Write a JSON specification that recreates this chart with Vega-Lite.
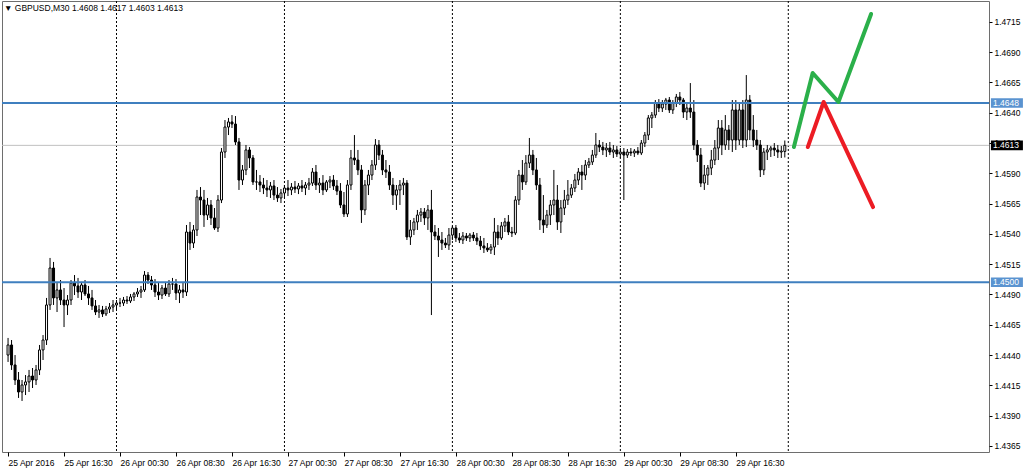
{
"$schema":"https://vega.github.io/schema/vega-lite/v6.json",
"width":987,"height":451,
"autosize":{"type":"none"},
"padding":{"left":2,"top":1,"right":35,"bottom":19},
"background":"white",
"config":{"view":{"stroke":"#6e6e6e","strokeWidth":1},"font":"Liberation Sans","axis":{"labelOverlap":false}},
"title":{"text":"▼ GBPUSD,M30  1.4608 1.4617 1.4603 1.4613","anchor":"start","frame":"group","fontSize":8.5,"fontWeight":"normal","font":"Liberation Sans","color":"black","offset":-12,"dx":2},
"resolve":{"axis":{"y":"independent"}},
"data":{"format":{"parse":{"t":"utc:'%Y-%m-%d %H:%M'"}},"values":[
{"t":"2016-04-25 08:30","o":1.44400,"h":1.44541,"l":1.44343,"c":1.44483},
{"t":"2016-04-25 09:00","o":1.44483,"h":1.44524,"l":1.44277,"c":1.44318},
{"t":"2016-04-25 09:30","o":1.44318,"h":1.44400,"l":1.44153,"c":1.44194},
{"t":"2016-04-25 10:00","o":1.44194,"h":1.44260,"l":1.44046,"c":1.44095},
{"t":"2016-04-25 10:30","o":1.44095,"h":1.44194,"l":1.44021,"c":1.44153},
{"t":"2016-04-25 11:00","o":1.44153,"h":1.44235,"l":1.44070,"c":1.44178},
{"t":"2016-04-25 11:30","o":1.44178,"h":1.44277,"l":1.44095,"c":1.44227},
{"t":"2016-04-25 12:00","o":1.44227,"h":1.44293,"l":1.44128,"c":1.44194},
{"t":"2016-04-25 12:30","o":1.44194,"h":1.44318,"l":1.44153,"c":1.44277},
{"t":"2016-04-25 13:00","o":1.44277,"h":1.44483,"l":1.44235,"c":1.44442},
{"t":"2016-04-25 13:30","o":1.44442,"h":1.44565,"l":1.44359,"c":1.44524},
{"t":"2016-04-25 14:00","o":1.44524,"h":1.44871,"l":1.44483,"c":1.44813},
{"t":"2016-04-25 14:30","o":1.44813,"h":1.45201,"l":1.44772,"c":1.45118},
{"t":"2016-04-25 15:00","o":1.45118,"h":1.45168,"l":1.44813,"c":1.44871},
{"t":"2016-04-25 15:30","o":1.44871,"h":1.44994,"l":1.44755,"c":1.44937},
{"t":"2016-04-25 16:00","o":1.44937,"h":1.45019,"l":1.44813,"c":1.44854},
{"t":"2016-04-25 16:30","o":1.44854,"h":1.44953,"l":1.44631,"c":1.44813},
{"t":"2016-04-25 17:00","o":1.44813,"h":1.44895,"l":1.44730,"c":1.44854},
{"t":"2016-04-25 17:30","o":1.44854,"h":1.45019,"l":1.44813,"c":1.44994},
{"t":"2016-04-25 18:00","o":1.44994,"h":1.45060,"l":1.44895,"c":1.44970},
{"t":"2016-04-25 18:30","o":1.44970,"h":1.45036,"l":1.44871,"c":1.44920},
{"t":"2016-04-25 19:00","o":1.44920,"h":1.45003,"l":1.44854,"c":1.44978},
{"t":"2016-04-25 19:30","o":1.44978,"h":1.45019,"l":1.44887,"c":1.44904},
{"t":"2016-04-25 20:00","o":1.44904,"h":1.44970,"l":1.44813,"c":1.44871},
{"t":"2016-04-25 20:30","o":1.44871,"h":1.44937,"l":1.44772,"c":1.44805},
{"t":"2016-04-25 21:00","o":1.44805,"h":1.44854,"l":1.44730,"c":1.44755},
{"t":"2016-04-25 21:30","o":1.44755,"h":1.44813,"l":1.44706,"c":1.44772},
{"t":"2016-04-25 22:00","o":1.44772,"h":1.44805,"l":1.44714,"c":1.44739},
{"t":"2016-04-25 22:30","o":1.44739,"h":1.44805,"l":1.44722,"c":1.44780},
{"t":"2016-04-25 23:00","o":1.44780,"h":1.44829,"l":1.44747,"c":1.44796},
{"t":"2016-04-25 23:30","o":1.44796,"h":1.44854,"l":1.44755,"c":1.44813},
{"t":"2016-04-26 00:00","o":1.44813,"h":1.44854,"l":1.44772,"c":1.44829},
{"t":"2016-04-26 00:30","o":1.44829,"h":1.44871,"l":1.44796,"c":1.44829},
{"t":"2016-04-26 01:00","o":1.44829,"h":1.44879,"l":1.44805,"c":1.44854},
{"t":"2016-04-26 01:30","o":1.44854,"h":1.44887,"l":1.44821,"c":1.44846},
{"t":"2016-04-26 02:00","o":1.44846,"h":1.44904,"l":1.44829,"c":1.44879},
{"t":"2016-04-26 02:30","o":1.44879,"h":1.44920,"l":1.44846,"c":1.44904},
{"t":"2016-04-26 03:00","o":1.44904,"h":1.44953,"l":1.44879,"c":1.44920},
{"t":"2016-04-26 03:30","o":1.44920,"h":1.44970,"l":1.44871,"c":1.44937},
{"t":"2016-04-26 04:00","o":1.44937,"h":1.45093,"l":1.44920,"c":1.45060},
{"t":"2016-04-26 04:30","o":1.45060,"h":1.45085,"l":1.44986,"c":1.45019},
{"t":"2016-04-26 05:00","o":1.45019,"h":1.45052,"l":1.44937,"c":1.44978},
{"t":"2016-04-26 05:30","o":1.44978,"h":1.45027,"l":1.44879,"c":1.44920},
{"t":"2016-04-26 06:00","o":1.44920,"h":1.44994,"l":1.44854,"c":1.44895},
{"t":"2016-04-26 06:30","o":1.44895,"h":1.44978,"l":1.44862,"c":1.44953},
{"t":"2016-04-26 07:00","o":1.44953,"h":1.45003,"l":1.44887,"c":1.44904},
{"t":"2016-04-26 07:30","o":1.44904,"h":1.45019,"l":1.44879,"c":1.44986},
{"t":"2016-04-26 08:00","o":1.44986,"h":1.45036,"l":1.44937,"c":1.44986},
{"t":"2016-04-26 08:30","o":1.44986,"h":1.45027,"l":1.44854,"c":1.44912},
{"t":"2016-04-26 09:00","o":1.44912,"h":1.44978,"l":1.44829,"c":1.44937},
{"t":"2016-04-26 09:30","o":1.44937,"h":1.45003,"l":1.44871,"c":1.44920},
{"t":"2016-04-26 10:00","o":1.44920,"h":1.45473,"l":1.44887,"c":1.45415},
{"t":"2016-04-26 10:30","o":1.45415,"h":1.45498,"l":1.45267,"c":1.45324},
{"t":"2016-04-26 11:00","o":1.45324,"h":1.45473,"l":1.45283,"c":1.45432},
{"t":"2016-04-26 11:30","o":1.45432,"h":1.45762,"l":1.45382,"c":1.45704},
{"t":"2016-04-26 12:00","o":1.45704,"h":1.45786,"l":1.45555,"c":1.45679},
{"t":"2016-04-26 12:30","o":1.45679,"h":1.45762,"l":1.45457,"c":1.45555},
{"t":"2016-04-26 13:00","o":1.45555,"h":1.45696,"l":1.45514,"c":1.45638},
{"t":"2016-04-26 13:30","o":1.45638,"h":1.45679,"l":1.45473,"c":1.45531},
{"t":"2016-04-26 14:00","o":1.45531,"h":1.45613,"l":1.45432,"c":1.45448},
{"t":"2016-04-26 14:30","o":1.45448,"h":1.45720,"l":1.45415,"c":1.45679},
{"t":"2016-04-26 15:00","o":1.45679,"h":1.46108,"l":1.45654,"c":1.46075},
{"t":"2016-04-26 15:30","o":1.46075,"h":1.46339,"l":1.46026,"c":1.46281},
{"t":"2016-04-26 16:00","o":1.46281,"h":1.46356,"l":1.46215,"c":1.46323},
{"t":"2016-04-26 16:30","o":1.46323,"h":1.46380,"l":1.46273,"c":1.46306},
{"t":"2016-04-26 17:00","o":1.46306,"h":1.46372,"l":1.46133,"c":1.46158},
{"t":"2016-04-26 17:30","o":1.46158,"h":1.46191,"l":1.45762,"c":1.45844},
{"t":"2016-04-26 18:00","o":1.45844,"h":1.45968,"l":1.45803,"c":1.45927},
{"t":"2016-04-26 18:30","o":1.45927,"h":1.46133,"l":1.45885,"c":1.46092},
{"t":"2016-04-26 19:00","o":1.46092,"h":1.46116,"l":1.45943,"c":1.46026},
{"t":"2016-04-26 19:30","o":1.46026,"h":1.46050,"l":1.45803,"c":1.45828},
{"t":"2016-04-26 20:00","o":1.45828,"h":1.45927,"l":1.45762,"c":1.45828},
{"t":"2016-04-26 20:30","o":1.45828,"h":1.45885,"l":1.45745,"c":1.45803},
{"t":"2016-04-26 21:00","o":1.45803,"h":1.45861,"l":1.45728,"c":1.45778},
{"t":"2016-04-26 21:30","o":1.45778,"h":1.45844,"l":1.45704,"c":1.45762},
{"t":"2016-04-26 22:00","o":1.45762,"h":1.45828,"l":1.45696,"c":1.45795},
{"t":"2016-04-26 22:30","o":1.45795,"h":1.45844,"l":1.45679,"c":1.45720},
{"t":"2016-04-26 23:00","o":1.45720,"h":1.45786,"l":1.45663,"c":1.45696},
{"t":"2016-04-26 23:30","o":1.45696,"h":1.45770,"l":1.45654,"c":1.45737},
{"t":"2016-04-27 00:00","o":1.45737,"h":1.45803,"l":1.45696,"c":1.45778},
{"t":"2016-04-27 00:30","o":1.45778,"h":1.45844,"l":1.45712,"c":1.45762},
{"t":"2016-04-27 01:00","o":1.45762,"h":1.45819,"l":1.45720,"c":1.45786},
{"t":"2016-04-27 01:30","o":1.45786,"h":1.45836,"l":1.45737,"c":1.45770},
{"t":"2016-04-27 02:00","o":1.45770,"h":1.45819,"l":1.45728,"c":1.45795},
{"t":"2016-04-27 02:30","o":1.45795,"h":1.45844,"l":1.45745,"c":1.45778},
{"t":"2016-04-27 03:00","o":1.45778,"h":1.45828,"l":1.45720,"c":1.45803},
{"t":"2016-04-27 03:30","o":1.45803,"h":1.45861,"l":1.45762,"c":1.45819},
{"t":"2016-04-27 04:00","o":1.45819,"h":1.45943,"l":1.45795,"c":1.45910},
{"t":"2016-04-27 04:30","o":1.45910,"h":1.45968,"l":1.45762,"c":1.45803},
{"t":"2016-04-27 05:00","o":1.45803,"h":1.45861,"l":1.45737,"c":1.45819},
{"t":"2016-04-27 05:30","o":1.45819,"h":1.45885,"l":1.45720,"c":1.45762},
{"t":"2016-04-27 06:00","o":1.45762,"h":1.45844,"l":1.45745,"c":1.45828},
{"t":"2016-04-27 06:30","o":1.45828,"h":1.45877,"l":1.45778,"c":1.45844},
{"t":"2016-04-27 07:00","o":1.45844,"h":1.45885,"l":1.45762,"c":1.45795},
{"t":"2016-04-27 07:30","o":1.45795,"h":1.45844,"l":1.45720,"c":1.45753},
{"t":"2016-04-27 08:00","o":1.45753,"h":1.45819,"l":1.45613,"c":1.45638},
{"t":"2016-04-27 08:30","o":1.45638,"h":1.45745,"l":1.45539,"c":1.45564},
{"t":"2016-04-27 09:00","o":1.45564,"h":1.45844,"l":1.45539,"c":1.45803},
{"t":"2016-04-27 09:30","o":1.45803,"h":1.46092,"l":1.45762,"c":1.46026},
{"t":"2016-04-27 10:00","o":1.46026,"h":1.46215,"l":1.45968,"c":1.46009},
{"t":"2016-04-27 10:30","o":1.46009,"h":1.46092,"l":1.45885,"c":1.45927},
{"t":"2016-04-27 11:00","o":1.45927,"h":1.45968,"l":1.45490,"c":1.45597},
{"t":"2016-04-27 11:30","o":1.45597,"h":1.45844,"l":1.45555,"c":1.45803},
{"t":"2016-04-27 12:00","o":1.45803,"h":1.45927,"l":1.45720,"c":1.45885},
{"t":"2016-04-27 12:30","o":1.45885,"h":1.46009,"l":1.45844,"c":1.45968},
{"t":"2016-04-27 13:00","o":1.45968,"h":1.46182,"l":1.45927,"c":1.46133},
{"t":"2016-04-27 13:30","o":1.46133,"h":1.46174,"l":1.46009,"c":1.46050},
{"t":"2016-04-27 14:00","o":1.46050,"h":1.46092,"l":1.45885,"c":1.45927},
{"t":"2016-04-27 14:30","o":1.45927,"h":1.46009,"l":1.45861,"c":1.45910},
{"t":"2016-04-27 15:00","o":1.45910,"h":1.45968,"l":1.45762,"c":1.45803},
{"t":"2016-04-27 15:30","o":1.45803,"h":1.45861,"l":1.45638,"c":1.45720},
{"t":"2016-04-27 16:00","o":1.45720,"h":1.45803,"l":1.45597,"c":1.45762},
{"t":"2016-04-27 16:30","o":1.45762,"h":1.45844,"l":1.45638,"c":1.45803},
{"t":"2016-04-27 17:00","o":1.45803,"h":1.45861,"l":1.45720,"c":1.45819},
{"t":"2016-04-27 17:30","o":1.45819,"h":1.45844,"l":1.45349,"c":1.45374},
{"t":"2016-04-27 18:00","o":1.45374,"h":1.45514,"l":1.45308,"c":1.45432},
{"t":"2016-04-27 18:30","o":1.45432,"h":1.45531,"l":1.45390,"c":1.45498},
{"t":"2016-04-27 19:00","o":1.45498,"h":1.45597,"l":1.45432,"c":1.45555},
{"t":"2016-04-27 19:30","o":1.45555,"h":1.45613,"l":1.45498,"c":1.45580},
{"t":"2016-04-27 20:00","o":1.45580,"h":1.45613,"l":1.45473,"c":1.45531},
{"t":"2016-04-27 20:30","o":1.45531,"h":1.45638,"l":1.45432,"c":1.45597},
{"t":"2016-04-27 21:00","o":1.45597,"h":1.45762,"l":1.44730,"c":1.45415},
{"t":"2016-04-27 21:30","o":1.45415,"h":1.45473,"l":1.45349,"c":1.45382},
{"t":"2016-04-27 22:00","o":1.45382,"h":1.45448,"l":1.45209,"c":1.45349},
{"t":"2016-04-27 22:30","o":1.45349,"h":1.45415,"l":1.45267,"c":1.45324},
{"t":"2016-04-27 23:00","o":1.45324,"h":1.45366,"l":1.45283,"c":1.45308},
{"t":"2016-04-27 23:30","o":1.45308,"h":1.45448,"l":1.45267,"c":1.45390},
{"t":"2016-04-28 00:00","o":1.45390,"h":1.45465,"l":1.45349,"c":1.45448},
{"t":"2016-04-28 00:30","o":1.45448,"h":1.45473,"l":1.45333,"c":1.45366},
{"t":"2016-04-28 01:00","o":1.45366,"h":1.45407,"l":1.45324,"c":1.45349},
{"t":"2016-04-28 01:30","o":1.45349,"h":1.45415,"l":1.45316,"c":1.45382},
{"t":"2016-04-28 02:00","o":1.45382,"h":1.45407,"l":1.45341,"c":1.45366},
{"t":"2016-04-28 02:30","o":1.45366,"h":1.45407,"l":1.45333,"c":1.45390},
{"t":"2016-04-28 03:00","o":1.45390,"h":1.45415,"l":1.45341,"c":1.45366},
{"t":"2016-04-28 03:30","o":1.45366,"h":1.45407,"l":1.45308,"c":1.45341},
{"t":"2016-04-28 04:00","o":1.45341,"h":1.45382,"l":1.45267,"c":1.45300},
{"t":"2016-04-28 04:30","o":1.45300,"h":1.45366,"l":1.45242,"c":1.45283},
{"t":"2016-04-28 05:00","o":1.45283,"h":1.45324,"l":1.45250,"c":1.45267},
{"t":"2016-04-28 05:30","o":1.45267,"h":1.45316,"l":1.45234,"c":1.45291},
{"t":"2016-04-28 06:00","o":1.45291,"h":1.45531,"l":1.45225,"c":1.45415},
{"t":"2016-04-28 06:30","o":1.45415,"h":1.45473,"l":1.45308,"c":1.45366},
{"t":"2016-04-28 07:00","o":1.45366,"h":1.45498,"l":1.45349,"c":1.45465},
{"t":"2016-04-28 07:30","o":1.45465,"h":1.45531,"l":1.45415,"c":1.45498},
{"t":"2016-04-28 08:00","o":1.45498,"h":1.45555,"l":1.45390,"c":1.45415},
{"t":"2016-04-28 08:30","o":1.45415,"h":1.45457,"l":1.45374,"c":1.45407},
{"t":"2016-04-28 09:00","o":1.45407,"h":1.45712,"l":1.45390,"c":1.45679},
{"t":"2016-04-28 09:30","o":1.45679,"h":1.45927,"l":1.45638,"c":1.45885},
{"t":"2016-04-28 10:00","o":1.45885,"h":1.46009,"l":1.45762,"c":1.45828},
{"t":"2016-04-28 10:30","o":1.45828,"h":1.46050,"l":1.45803,"c":1.45984},
{"t":"2016-04-28 11:00","o":1.45984,"h":1.46191,"l":1.45943,"c":1.46050},
{"t":"2016-04-28 11:30","o":1.46050,"h":1.46092,"l":1.45885,"c":1.45927},
{"t":"2016-04-28 12:00","o":1.45927,"h":1.46026,"l":1.45762,"c":1.45803},
{"t":"2016-04-28 12:30","o":1.45803,"h":1.45861,"l":1.45432,"c":1.45514},
{"t":"2016-04-28 13:00","o":1.45514,"h":1.45720,"l":1.45407,"c":1.45473},
{"t":"2016-04-28 13:30","o":1.45473,"h":1.45597,"l":1.45448,"c":1.45555},
{"t":"2016-04-28 14:00","o":1.45555,"h":1.45679,"l":1.45473,"c":1.45638},
{"t":"2016-04-28 14:30","o":1.45638,"h":1.45927,"l":1.45555,"c":1.45679},
{"t":"2016-04-28 15:00","o":1.45679,"h":1.45803,"l":1.45432,"c":1.45498},
{"t":"2016-04-28 15:30","o":1.45498,"h":1.45679,"l":1.45407,"c":1.45613},
{"t":"2016-04-28 16:00","o":1.45613,"h":1.45762,"l":1.45555,"c":1.45679},
{"t":"2016-04-28 16:30","o":1.45679,"h":1.45844,"l":1.45638,"c":1.45720},
{"t":"2016-04-28 17:00","o":1.45720,"h":1.45811,"l":1.45696,"c":1.45778},
{"t":"2016-04-28 17:30","o":1.45778,"h":1.45894,"l":1.45745,"c":1.45844},
{"t":"2016-04-28 18:00","o":1.45844,"h":1.45943,"l":1.45803,"c":1.45910},
{"t":"2016-04-28 18:30","o":1.45910,"h":1.45968,"l":1.45762,"c":1.45885},
{"t":"2016-04-28 19:00","o":1.45885,"h":1.46009,"l":1.45844,"c":1.45968},
{"t":"2016-04-28 19:30","o":1.45968,"h":1.46026,"l":1.45943,"c":1.45993},
{"t":"2016-04-28 20:00","o":1.45993,"h":1.46092,"l":1.45968,"c":1.46050},
{"t":"2016-04-28 20:30","o":1.46050,"h":1.46232,"l":1.46026,"c":1.46133},
{"t":"2016-04-28 21:00","o":1.46133,"h":1.46174,"l":1.46075,"c":1.46116},
{"t":"2016-04-28 21:30","o":1.46116,"h":1.46158,"l":1.46050,"c":1.46092},
{"t":"2016-04-28 22:00","o":1.46092,"h":1.46149,"l":1.46034,"c":1.46108},
{"t":"2016-04-28 22:30","o":1.46108,"h":1.46158,"l":1.46050,"c":1.46075},
{"t":"2016-04-28 23:00","o":1.46075,"h":1.46133,"l":1.46026,"c":1.46092},
{"t":"2016-04-28 23:30","o":1.46092,"h":1.46125,"l":1.46034,"c":1.46059},
{"t":"2016-04-29 00:00","o":1.46059,"h":1.46108,"l":1.46026,"c":1.46075},
{"t":"2016-04-29 00:30","o":1.46075,"h":1.46108,"l":1.45679,"c":1.46050},
{"t":"2016-04-29 01:00","o":1.46050,"h":1.46100,"l":1.46026,"c":1.46075},
{"t":"2016-04-29 01:30","o":1.46075,"h":1.46108,"l":1.46042,"c":1.46067},
{"t":"2016-04-29 02:00","o":1.46067,"h":1.46100,"l":1.46034,"c":1.46083},
{"t":"2016-04-29 02:30","o":1.46083,"h":1.46116,"l":1.46050,"c":1.46067},
{"t":"2016-04-29 03:00","o":1.46067,"h":1.46174,"l":1.46050,"c":1.46149},
{"t":"2016-04-29 03:30","o":1.46149,"h":1.46240,"l":1.46116,"c":1.46215},
{"t":"2016-04-29 04:00","o":1.46215,"h":1.46380,"l":1.46174,"c":1.46356},
{"t":"2016-04-29 04:30","o":1.46356,"h":1.46405,"l":1.46273,"c":1.46380},
{"t":"2016-04-29 05:00","o":1.46380,"h":1.46504,"l":1.46356,"c":1.46479},
{"t":"2016-04-29 05:30","o":1.46479,"h":1.46512,"l":1.46405,"c":1.46438},
{"t":"2016-04-29 06:00","o":1.46438,"h":1.46504,"l":1.46405,"c":1.46471},
{"t":"2016-04-29 06:30","o":1.46471,"h":1.46521,"l":1.46422,"c":1.46504},
{"t":"2016-04-29 07:00","o":1.46504,"h":1.46529,"l":1.46397,"c":1.46422},
{"t":"2016-04-29 07:30","o":1.46422,"h":1.46504,"l":1.46389,"c":1.46479},
{"t":"2016-04-29 08:00","o":1.46479,"h":1.46554,"l":1.46446,"c":1.46529},
{"t":"2016-04-29 08:30","o":1.46529,"h":1.46570,"l":1.46463,"c":1.46504},
{"t":"2016-04-29 09:00","o":1.46504,"h":1.46521,"l":1.46356,"c":1.46405},
{"t":"2016-04-29 09:30","o":1.46405,"h":1.46479,"l":1.46339,"c":1.46438},
{"t":"2016-04-29 10:00","o":1.46438,"h":1.46644,"l":1.46356,"c":1.46405},
{"t":"2016-04-29 10:30","o":1.46405,"h":1.46504,"l":1.46092,"c":1.46133},
{"t":"2016-04-29 11:00","o":1.46133,"h":1.46174,"l":1.45993,"c":1.46050},
{"t":"2016-04-29 11:30","o":1.46050,"h":1.46108,"l":1.45786,"c":1.45819},
{"t":"2016-04-29 12:00","o":1.45819,"h":1.45968,"l":1.45762,"c":1.45885},
{"t":"2016-04-29 12:30","o":1.45885,"h":1.45968,"l":1.45803,"c":1.45943},
{"t":"2016-04-29 13:00","o":1.45943,"h":1.46092,"l":1.45885,"c":1.46009},
{"t":"2016-04-29 13:30","o":1.46009,"h":1.46174,"l":1.45968,"c":1.46108},
{"t":"2016-04-29 14:00","o":1.46108,"h":1.46339,"l":1.46009,"c":1.46273},
{"t":"2016-04-29 14:30","o":1.46273,"h":1.46339,"l":1.46050,"c":1.46133},
{"t":"2016-04-29 15:00","o":1.46133,"h":1.46380,"l":1.46092,"c":1.46257},
{"t":"2016-04-29 15:30","o":1.46257,"h":1.46298,"l":1.46092,"c":1.46174},
{"t":"2016-04-29 16:00","o":1.46174,"h":1.46504,"l":1.46075,"c":1.46422},
{"t":"2016-04-29 16:30","o":1.46422,"h":1.46504,"l":1.46092,"c":1.46174},
{"t":"2016-04-29 17:00","o":1.46174,"h":1.46479,"l":1.46133,"c":1.46422},
{"t":"2016-04-29 17:30","o":1.46422,"h":1.46504,"l":1.46108,"c":1.46174},
{"t":"2016-04-29 18:00","o":1.46174,"h":1.46710,"l":1.46116,"c":1.46504},
{"t":"2016-04-29 18:30","o":1.46504,"h":1.46545,"l":1.46174,"c":1.46257},
{"t":"2016-04-29 19:00","o":1.46257,"h":1.46380,"l":1.46116,"c":1.46174},
{"t":"2016-04-29 19:30","o":1.46174,"h":1.46257,"l":1.46092,"c":1.46133},
{"t":"2016-04-29 20:00","o":1.46133,"h":1.46174,"l":1.45869,"c":1.45927},
{"t":"2016-04-29 20:30","o":1.45927,"h":1.46108,"l":1.45885,"c":1.46075},
{"t":"2016-04-29 21:00","o":1.46075,"h":1.46133,"l":1.46009,"c":1.46092},
{"t":"2016-04-29 21:30","o":1.46092,"h":1.46125,"l":1.46034,"c":1.46108},
{"t":"2016-04-29 22:00","o":1.46108,"h":1.46149,"l":1.46042,"c":1.46092},
{"t":"2016-04-29 22:30","o":1.46092,"h":1.46133,"l":1.46026,"c":1.46075},
{"t":"2016-04-29 23:00","o":1.46075,"h":1.46125,"l":1.46026,"c":1.46083},
{"t":"2016-04-29 23:30","o":1.4608,"h":1.4617,"l":1.4603,"c":1.4613}
]},
"layer":[
{"data":{"format":{"parse":{"t":"utc:'%Y-%m-%d %H:%M'"}},"values":[{"t":"2016-04-26 00:00"},{"t":"2016-04-27 00:00"},{"t":"2016-04-28 00:00"},{"t":"2016-04-29 00:00"},{"t":"2016-04-30 00:00"}]},
 "mark":{"type":"rule","color":"black","strokeDash":[2,2],"strokeWidth":1},
 "encoding":{"x":{"field":"t","type":"temporal","title":null}}},
{"data":{"values":[{"p":1.4613}]},
 "mark":{"type":"rule","color":"#c0c0c0","strokeWidth":1},
 "encoding":{"y":{"field":"p","type":"quantitative","title":null,"axis":null}}},
{"mark":{"type":"rule","color":"black","strokeWidth":1},
 "encoding":{
  "x":{"field":"t","type":"temporal","title":null,
   "scale":{"type":"utc","nice":false,"domain":[{"year":2016,"month":4,"date":25,"hours":8,"minutes":21,"utc":true},{"year":2016,"month":5,"date":1,"hours":3,"minutes":58,"utc":true}]},
   "axis":{"values":[
    {"year":2016,"month":4,"date":25,"hours":8,"minutes":30,"utc":true},
    {"year":2016,"month":4,"date":25,"hours":16,"minutes":30,"utc":true},
    {"year":2016,"month":4,"date":26,"hours":0,"minutes":30,"utc":true},
    {"year":2016,"month":4,"date":26,"hours":8,"minutes":30,"utc":true},
    {"year":2016,"month":4,"date":26,"hours":16,"minutes":30,"utc":true},
    {"year":2016,"month":4,"date":27,"hours":0,"minutes":30,"utc":true},
    {"year":2016,"month":4,"date":27,"hours":8,"minutes":30,"utc":true},
    {"year":2016,"month":4,"date":27,"hours":16,"minutes":30,"utc":true},
    {"year":2016,"month":4,"date":28,"hours":0,"minutes":30,"utc":true},
    {"year":2016,"month":4,"date":28,"hours":8,"minutes":30,"utc":true},
    {"year":2016,"month":4,"date":28,"hours":16,"minutes":30,"utc":true},
    {"year":2016,"month":4,"date":29,"hours":0,"minutes":30,"utc":true},
    {"year":2016,"month":4,"date":29,"hours":8,"minutes":30,"utc":true},
    {"year":2016,"month":4,"date":29,"hours":16,"minutes":30,"utc":true}],
    "labelExpr":"datum.value < 1461574000000 ? '25 Apr 2016' : utcFormat(datum.value, '%d %b %H:%M')",
    "labelAlign":"left","labelPadding":2,"tickSize":4,"tickColor":"black","labelColor":"black","labelFontSize":8.5,"labelFont":"Liberation Sans","domain":false,"grid":false,"labelOverlap":false,"labelFlush":false,"labelBound":false}},
  "y":{"field":"l","type":"quantitative","title":null,
   "scale":{"domain":[1.436,1.47321],"nice":false,"zero":false},
   "axis":{"orient":"right","values":[1.4365,1.4415,1.4465,1.4515,1.4565,1.4615,1.4665,1.4715],"format":".4f","tickSize":3,"labelPadding":2,"domain":false,"grid":false,"labelFontSize":8.5,"labelFont":"Liberation Sans","labelColor":"black","tickColor":"black","labelOverlap":false,"labelBaseline":"middle"}},
  "y2":{"field":"h"}}},
{"mark":{"type":"bar","size":2,"stroke":"black","strokeWidth":1},
 "encoding":{
  "x":{"field":"t","type":"temporal","title":null},
  "y":{"field":"o","type":"quantitative","title":null,
   "axis":{"orient":"right","values":[1.439,1.444,1.449,1.454,1.459,1.464,1.469],"format":".4f","tickSize":3,"labelPadding":2,"domain":false,"grid":false,"labelFontSize":8.5,"labelFont":"Liberation Sans","labelColor":"black","tickColor":"black","labelOverlap":false,"labelBaseline":"middle"}},
  "y2":{"field":"c"},
  "fill":{"condition":{"test":"datum.c >= datum.o","value":"white"},"value":"black"}}},
{"data":{"values":[{"p":1.4648},{"p":1.45}]},
 "mark":{"type":"rule","color":"#3f7fbf","strokeWidth":2},
 "encoding":{"y":{"field":"p","type":"quantitative","title":null,"axis":null}}},
{"data":{"format":{"parse":{"t":"utc:'%Y-%m-%d %H:%M'"}},"values":[
  {"t":"2016-04-30 00:48","p":1.46116},{"t":"2016-04-30 03:29","p":1.46727},{"t":"2016-04-30 07:10","p":1.46488},{"t":"2016-04-30 11:50","p":1.47214}]},
 "mark":{"type":"line","color":"#2bb04a","strokeWidth":4,"strokeCap":"round","strokeJoin":"round"},
 "encoding":{"x":{"field":"t","type":"temporal","title":null},"y":{"field":"p","type":"quantitative","title":null,"axis":null}}},
{"data":{"format":{"parse":{"t":"utc:'%Y-%m-%d %H:%M'"}},"values":[
  {"t":"2016-04-30 02:47","p":1.46116},{"t":"2016-04-30 05:03","p":1.46488},{"t":"2016-04-30 12:07","p":1.45621}]},
 "mark":{"type":"line","color":"#ec1c24","strokeWidth":4,"strokeCap":"round","strokeJoin":"round"},
 "encoding":{"x":{"field":"t","type":"temporal","title":null},"y":{"field":"p","type":"quantitative","title":null,"axis":null}}},
{"data":{"values":[{"p":1.4648,"lab":"1.4648","k":"b"},{"p":1.45,"lab":"1.4500","k":"b"},{"p":1.4613,"lab":"1.4613","k":"k"}]},
 "layer":[
  {"mark":{"type":"point","shape":"M0.12,-0.3L2.12,-0.3L2.12,0.3L0.12,0.3Z","size":1024,"filled":true,"opacity":1,"strokeWidth":0},
   "encoding":{"x":{"value":"width"},"y":{"field":"p","type":"quantitative","title":null,"axis":null},
    "fill":{"condition":{"test":"datum.k == 'b'","value":"#5a93d0"},"value":"black"}}},
  {"mark":{"type":"text","align":"left","dx":4,"color":"white","fontSize":8.5,"font":"Liberation Sans","baseline":"middle"},
   "encoding":{"x":{"value":"width"},"y":{"field":"p","type":"quantitative","title":null,"axis":null},"text":{"field":"lab"}}}
 ]}
]
}
